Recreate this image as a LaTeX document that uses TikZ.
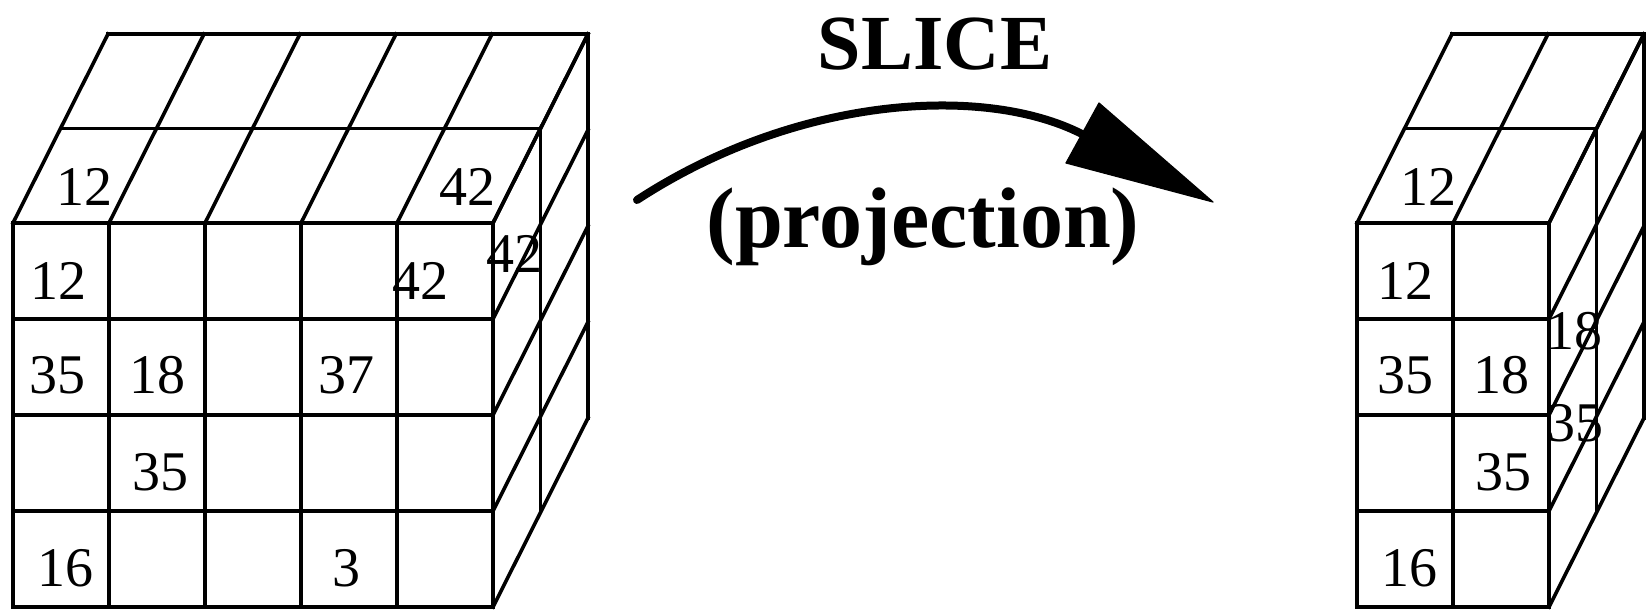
\documentclass[tikz,border=0pt]{standalone}
\usepackage{fontspec}
\setmainfont{Liberation Serif}
\newcommand\cubegrid[4]{% #1=x0, #2=y0 (front top-left), #3=ncols, #4=nrows
  \pgfmathsetmacro\cgxR{#1+#3*96}
  \pgfmathsetmacro\cgyB{#2+#4*96}
  \foreach \i in {0,...,#3} \draw[grid] ({#1+\i*96},#2) -- ({#1+\i*96},\cgyB);
  \foreach \j in {0,...,#4} \draw[grid] (#1,{#2+\j*96}) -- (\cgxR,{#2+\j*96});
  \foreach \k in {1,2} \draw[grid] ({#1+\k*47.5},{#2-\k*94.5}) -- ({\cgxR+\k*47.5},{#2-\k*94.5});
  \foreach \i in {0,...,#3} \draw[grid] ({#1+\i*96},#2) -- ({#1+\i*96+95},{#2-189});
  \foreach \k in {1,2} \draw[grid] ({\cgxR+\k*47.5},{#2-\k*94.5}) -- ({\cgxR+\k*47.5},{\cgyB-\k*94.5});
  \foreach \j in {0,...,#4} \draw[grid] (\cgxR,{#2+\j*96}) -- ({\cgxR+95},{#2+\j*96-189});
}
\begin{document}
\begin{tikzpicture}[x=0.5pt,y=-0.5pt,
  grid/.style={line width=1.8pt, line cap=rect},
  num/.style={inner sep=0pt, font=\fontsize{28}{28}\selectfont},
  title/.style={inner sep=0pt, font=\fontsize{39}{39}\selectfont\bfseries},
  sub/.style={inner sep=0pt, font=\fontsize{43}{43}\selectfont\bfseries},
  arcline/.style={line width=4pt, line cap=round},
  arrowhead/.style={fill=black, draw=black, line width=0.6pt, line join=round}]
\useasboundingbox (0,0) rectangle (1646,610);
% left cube
\cubegrid{13}{223}{5}{4}
\node[num] (l12t) at (84,187) {12};
\node[num] (l42t) at (467,187) {42};
\node[num] (l12f) at (59,281) {12};
\node[num] (l42f) at (420,281) {42};
\node[num] (l42r) at (514,254) {42};
\node[num] (l35a) at (58,375) {35};
\node[num] (l18) at (157,375) {18};
\node[num] (l37) at (346,375) {37};
\node[num] (l35b) at (160,472) {35};
\node[num] (l16) at (66,568) {16};
\node[num] (l3) at (346,568) {3};
% right cube
\cubegrid{1357}{223}{2}{4}
\node[num] (r12t) at (1428,187) {12};
\node[num] (r12f) at (1405,281) {12};
\node[num] (r35a) at (1405,375) {35};
\node[num] (r18) at (1501,375) {18};
\node[num] (r35b) at (1503,472) {35};
\node[num] (r16) at (1409,568) {16};
\node[num] (r18r) at (1574,331) {18};
\node[num] (r35r) at (1575,423) {35};
% title and arrow
\node[title] (slice) at (935,44) {SLICE};
\node[sub] (proj) at (923,227) {(projection)};
\coordinate (a0) at (637,200);
\coordinate (ab) at (1082,134);
\coordinate (ac1) at (1099,103);
\coordinate (ac2) at (1066,163);
\coordinate (a1) at (1213,202);
\draw[arcline] (a0) .. controls (796,96) and (984,84) .. (ab);
\filldraw[arrowhead] (ac1) -- (a1) -- (ac2) -- cycle;
\end{tikzpicture}
\end{document}
